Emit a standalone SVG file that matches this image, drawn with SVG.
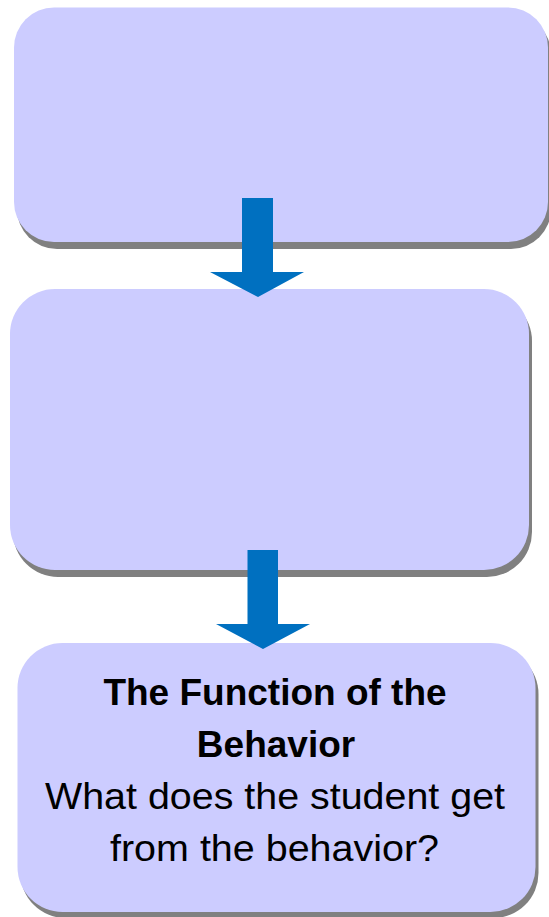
<svg xmlns="http://www.w3.org/2000/svg" width="549" height="917" viewBox="0 0 549 917">
<style>
.box{fill:#CCCCFF;}
.shadow{fill:#808080;}
.arrow{fill:#0070C0;}
.t{font-family:"Liberation Sans",Arial,sans-serif;font-size:37px;fill:#000;text-anchor:middle;}
.b{font-weight:bold;}
</style>
<rect width="549" height="917" fill="#fff"/>
<g id="node1">
<rect class="shadow" x="17" y="14" width="534" height="235" rx="40"/>
<rect class="box" x="14" y="7.5" width="534" height="234.5" rx="40"/>
</g>
<g id="node2">
<rect class="shadow" x="13" y="296" width="519" height="281" rx="45"/>
<rect class="box" x="10" y="289" width="519" height="281" rx="45"/>
</g>
<g id="node3">
<rect class="shadow" x="20.5" y="649" width="518" height="269" rx="45"/>
<rect class="box" x="17.5" y="643" width="518" height="269" rx="45"/>
<text class="t b" x="275" y="705">The Function of the</text>
<text class="t b" x="276" y="757">Behavior</text>
<text class="t" x="275" y="809" textLength="460" lengthAdjust="spacingAndGlyphs">What does the student get</text>
<text class="t" x="274.5" y="861" textLength="329" lengthAdjust="spacingAndGlyphs">from the behavior?</text>
</g>
<g id="connectors">
<polygon class="arrow" points="242,198 273,198 273,272 304,272 258,297 210,272 242,272"/>
<polygon class="arrow" points="247.5,550 278,550 278,624 310,624 263,649 216,624 247.5,624"/>
</g>
</svg>
